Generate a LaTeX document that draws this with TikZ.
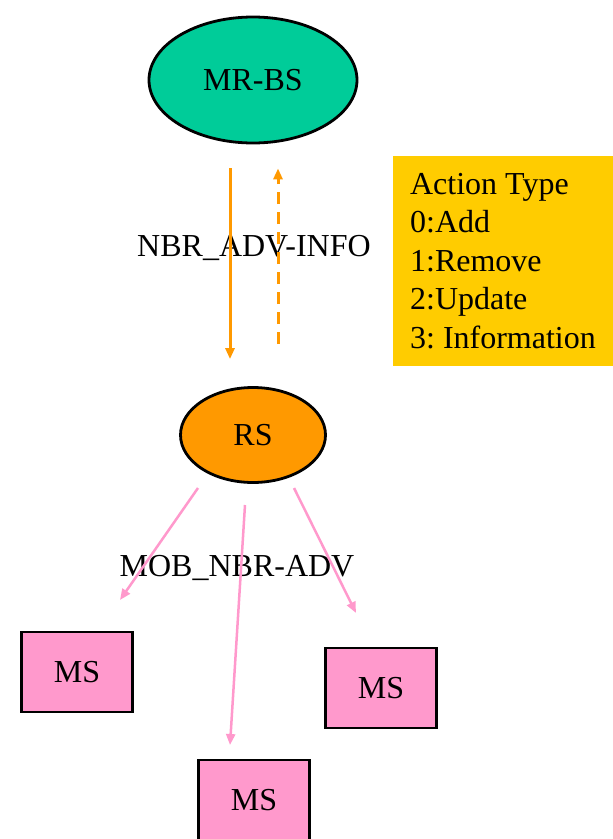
\documentclass[tikz,border=0pt]{standalone}
\usepackage{fontspec}
\setmainfont{Liberation Serif}
\usetikzlibrary{arrows.meta,shapes,positioning}

\definecolor{bsgreen}{HTML}{00CC99}
\definecolor{rsorange}{HTML}{FF9900}
\definecolor{mspink}{HTML}{FF99CC}
\definecolor{typeyellow}{HTML}{FFCC00}

\begin{document}
\frenchspacing
\begin{tikzpicture}[x=1pt,y=-1pt,>={Triangle[length=11pt,width=9pt]},
                    font=\fontsize{32}{38.5}\selectfont,
                    station/.style={ellipse,draw,line width=2.8pt,inner sep=0pt},
                    msbox/.style={rectangle,draw,line width=2.8pt,fill=mspink,
                                  minimum width=111pt,minimum height=80pt},
                    up/.style={->,line width=3pt,rsorange},
                    down/.style={->,line width=2.5pt,mspink}]
  \useasboundingbox (0,0) rectangle (613,839);

  \node[station,fill=bsgreen,minimum width=208pt,minimum height=126pt] (mrbs) at (253,80) {MR-BS};
  \node[station,fill=rsorange,minimum width=145pt,minimum height=95pt] (rs) at (253,435) {RS};

  \node[msbox] (ms1) at (77,672)  {MS};
  \node[msbox] (ms2) at (381,688) {MS};
  \node[msbox] (ms3) at (254,800) {MS};

  \node[rectangle,fill=typeyellow,minimum width=220pt,minimum height=210pt,
        align=left] (types) at (503,261)
        {Action Type\\0:Add\\1:Remove\\2:Update\\3: Information};

  \node (info) at (254,248) {NBR\_ADV-INFO};
  \node (mob)  at (237,568) {MOB\_NBR-ADV};

  % RS <-> MR-BS
  \draw[up] ([xshift=-23pt]mrbs.south) -- ([xshift=-23pt]rs.north)
            [shorten <=24pt,shorten >=27pt];
  \draw[up,dashed,dash pattern=on 12pt off 8pt,shorten <=42pt,shorten >=24pt]
        ([xshift=25pt]rs.north) -- ([xshift=25pt]mrbs.south);

  % RS -> MS
  \coordinate (s1) at (198,488);
  \coordinate (e1) at (120,600);
  \coordinate (s2) at (245,505);
  \coordinate (e2) at (230,745);
  \coordinate (s3) at (294,488);
  \coordinate (e3) at (356,613);
  \draw[down] (s1) -- (e1);
  \draw[down] (s2) -- (e2);
  \draw[down] (s3) -- (e3);
\end{tikzpicture}
\end{document}
